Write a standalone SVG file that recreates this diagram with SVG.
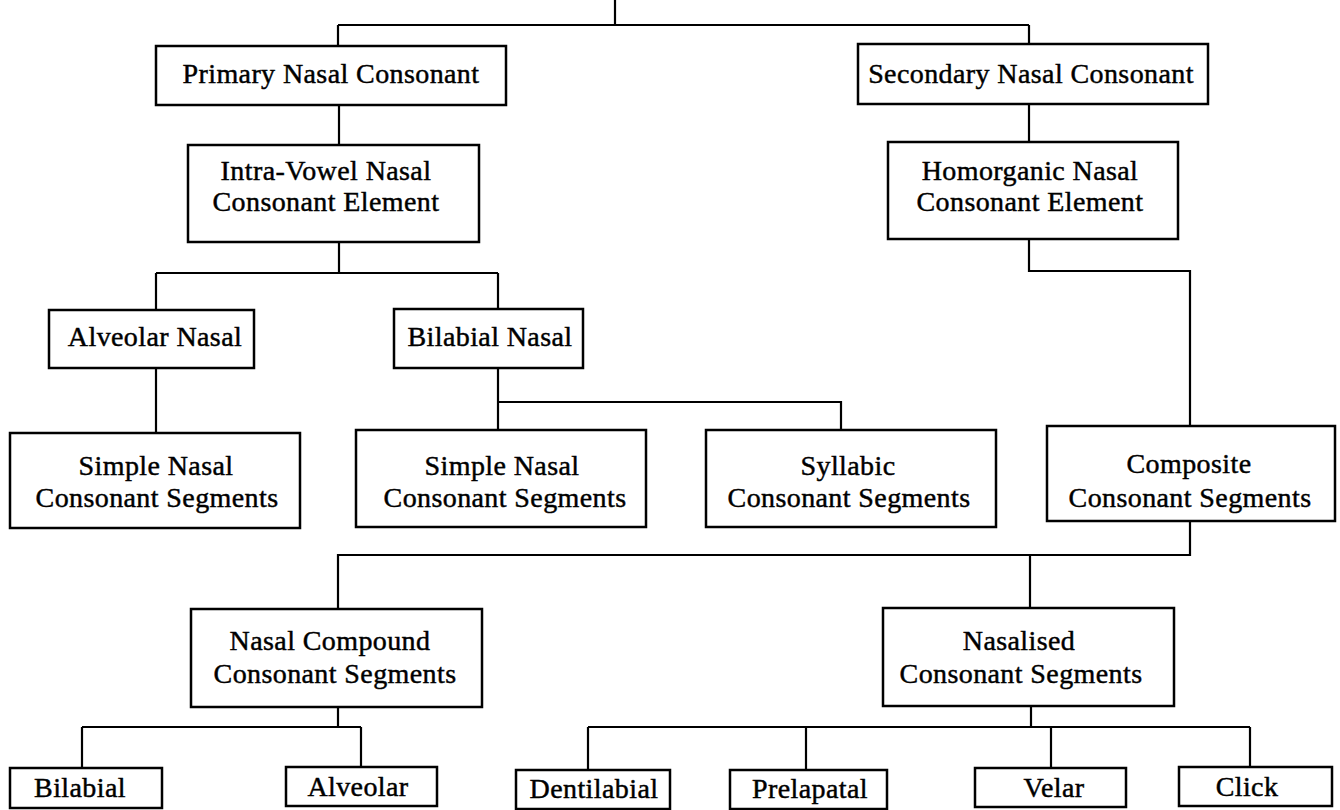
<svg xmlns="http://www.w3.org/2000/svg" width="1340" height="810" viewBox="0 0 1340 810">
<style>
  .box { fill: #ffffff; stroke: #000000; stroke-width: 2.5; }
  .conn { fill: none; stroke: #000000; stroke-width: 2.2; }
  text { font-family: "Liberation Serif", "Times New Roman", serif; font-size: 28px; letter-spacing: 0.4px; fill: #000000; stroke: #000000; stroke-width: 0.45; text-anchor: middle; }
</style>
<rect width="1340" height="810" fill="#ffffff"/>
<g id="connectors" class="conn">
  <path d="M615,0 V25 M338,25 H1029 M338,25 V46 M1029,25 V44"/>
  <path d="M339,105 V145"/>
  <path d="M1029,104 V142"/>
  <path d="M339,242 V273 M156,273 H498 M156,273 V310 M498,273 V309"/>
  <path d="M156,368 V433"/>
  <path d="M498,368 V430 M498,402 H841 V430"/>
  <path d="M1029,239 V271 H1190 V426"/>
  <path d="M1190,521 V555 H338 V609 M1030,555 V608"/>
  <path d="M338,707 V727 M82,727 H361 M82,727 V768 M361,727 V767"/>
  <path d="M1031,706 V727 M588,727 H1250 M588,727 V770 M806,727 V770 M1051,727 V768 M1250,727 V767"/>
</g>
<g id="primary"><rect class="box" x="156" y="46" width="350" height="59"/><text x="331" y="83">Primary Nasal Consonant</text></g>
<g id="secondary"><rect class="box" x="858" y="44" width="350" height="60"/><text x="1031" y="83">Secondary Nasal Consonant</text></g>
<g id="intra"><rect class="box" x="188" y="145" width="291" height="97"/><text x="326" y="180">Intra-Vowel Nasal</text><text x="326" y="211">Consonant Element</text></g>
<g id="homorganic"><rect class="box" x="888" y="142" width="290" height="97"/><text x="1030" y="180">Homorganic Nasal</text><text x="1030" y="211">Consonant Element</text></g>
<g id="alveolar-nasal"><rect class="box" x="49" y="310" width="205" height="58"/><text x="155" y="346">Alveolar Nasal</text></g>
<g id="bilabial-nasal"><rect class="box" x="394" y="309" width="189" height="59"/><text x="490" y="346">Bilabial Nasal</text></g>
<g id="simple-nasal-1"><rect class="box" x="10" y="433" width="290" height="95"/><text x="156" y="475">Simple Nasal</text><text x="157" y="507">Consonant Segments</text></g>
<g id="simple-nasal-2"><rect class="box" x="356" y="430" width="290" height="97"/><text x="502" y="475">Simple Nasal</text><text x="505" y="507">Consonant Segments</text></g>
<g id="syllabic"><rect class="box" x="706" y="430" width="290" height="97"/><text x="848" y="475">Syllabic</text><text x="849" y="507">Consonant Segments</text></g>
<g id="composite"><rect class="box" x="1047" y="426" width="288" height="95"/><text x="1189" y="473">Composite</text><text x="1190" y="507">Consonant Segments</text></g>
<g id="nasal-compound"><rect class="box" x="191" y="609" width="291" height="98"/><text x="330" y="650">Nasal Compound</text><text x="335" y="683">Consonant Segments</text></g>
<g id="nasalised"><rect class="box" x="883" y="608" width="291" height="98"/><text x="1019" y="650">Nasalised</text><text x="1021" y="683">Consonant Segments</text></g>
<g id="bilabial"><rect class="box" x="10" y="768" width="152" height="40"/><text x="80" y="797">Bilabial</text></g>
<g id="alveolar"><rect class="box" x="286" y="767" width="151" height="39"/><text x="358" y="796">Alveolar</text></g>
<g id="dentilabial"><rect class="box" x="516" y="770" width="154" height="39"/><text x="594" y="798">Dentilabial</text></g>
<g id="prelapatal"><rect class="box" x="730" y="770" width="157" height="39"/><text x="810" y="798">Prelapatal</text></g>
<g id="velar"><rect class="box" x="975" y="768" width="151" height="39"/><text x="1054" y="797">Velar</text></g>
<g id="click"><rect class="box" x="1179" y="767" width="153" height="39"/><text x="1247" y="796">Click</text></g>
</svg>
